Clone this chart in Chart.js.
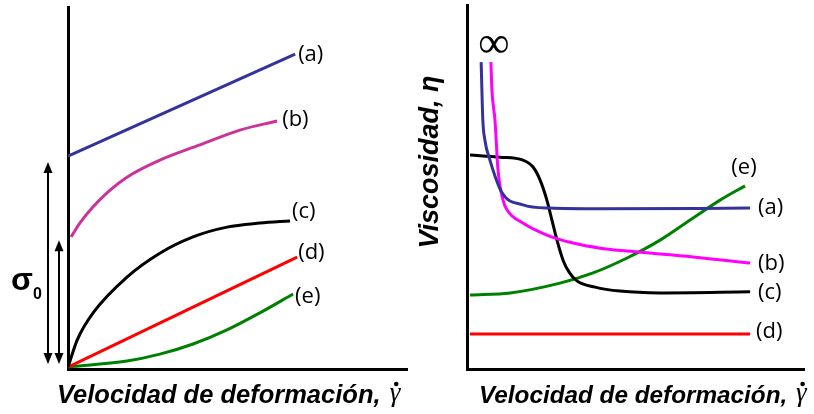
<!DOCTYPE html>
<html>
<head>
<meta charset="utf-8">
<script src="https://cdn.jsdelivr.net/npm/chart.js@4"></script>
<style>
  html, body { margin: 0; padding: 0; background: #fff; }
  #wrap { position: relative; width: 814px; height: 414px; }
  #flowChart { position: absolute; left: 0; top: 0; }
  #viscChart { position: absolute; left: 410px; top: 0; }
</style>
</head>
<body>
<div id="wrap">
  <canvas id="flowChart" width="410" height="414"></canvas>
  <canvas id="viscChart" width="404" height="414"></canvas>
</div>
<script>
// --- left panel: esfuerzo vs velocidad de deformación (arbitrary units 0..10)
const seriesNames = ['(a)', '(b)', '(c)', '(d)', '(e)'];
const stressA = [[0, 5.88], [6.70, 8.70]];
const stressB = [[0.09, 3.65], [0.35, 4.03], [0.74, 4.48], [1.24, 4.94], [1.74, 5.30], [2.71, 5.77], [3.89, 6.19], [5.07, 6.60], [6.17, 6.85]];
const stressC = [[0, 0.05], [0.27, 0.80], [0.74, 1.55], [1.74, 2.54], [2.71, 3.20], [3.69, 3.65], [4.69, 3.92], [5.66, 4.03], [6.55, 4.09]];
const stressD = [[0, 0.05], [6.76, 3.09]];
const stressE = [[0, 0.06], [1.74, 0.22], [2.71, 0.41], [3.69, 0.69], [4.69, 1.08], [5.66, 1.55], [6.64, 2.07]];
const yieldStress = [5.72, 3.56];   // tops of the sigma_0 arrows
const arrowBase = 0.14;

// --- right panel: viscosidad vs velocidad de deformación
const viscA = [[0.42, 8.43], [0.47, 6.84], [0.53, 6.29], [0.68, 5.74], [1.04, 4.84], [1.66, 4.51], [2.46, 4.42], [3.95, 4.40], [8.40, 4.42]];
const viscB = [[0.71, 8.43], [0.74, 7.66], [0.83, 6.84], [0.92, 5.47], [1.07, 4.64], [1.19, 4.37], [1.66, 4.01], [2.37, 3.68], [3.15, 3.46], [3.95, 3.32], [4.75, 3.24], [6.71, 3.08], [8.40, 2.91]];
const viscC = [[0.09, 5.88], [0.98, 5.82], [1.66, 5.74], [1.96, 5.55], [2.17, 5.19], [2.37, 4.64], [2.52, 4.09], [2.67, 3.54], [2.85, 2.99], [3.03, 2.66], [3.26, 2.42], [3.80, 2.25], [4.54, 2.14], [5.73, 2.09], [8.40, 2.12]];
const viscD = [[0.09, 0.96], [8.40, 0.96]];
const viscE = [[0.09, 2.03], [1.28, 2.09], [2.76, 2.36], [3.74, 2.64], [4.75, 3.05], [5.73, 3.54], [6.71, 4.15], [7.51, 4.64], [8.25, 5.03]];
const infinityAt = [0.8, 8.88];

const xTitle = 'Velocidad de deformación, ';
const rateSymbol = 'γ';
const yTitle = 'Viscosidad, η';
const labelFont = '22px "Open Sans"';

const toPts = arr => arr.map(p => ({ x: p[0], y: p[1] }));

function makeSets(series, colors) {
  return series.map((s, i) => ({
    label: seriesNames[i],
    data: toPts(s),
    borderColor: colors[i],
    borderWidth: 3,
    pointRadius: 0,
    fill: false,
    cubicInterpolationMode: 'monotone'
  }));
}

function axisOpts() {
  const common = {
    type: 'linear', min: 0, max: 10,
    grid: { display: false, drawTicks: false, tickLength: 0 },
    ticks: { display: false },
    border: { display: true, width: 3, color: '#000' }
  };
  return { x: { ...common }, y: { ...common } };
}

// curve labels at the end of each line
function endLabels(offsets) {
  return {
    id: 'endLabels',
    afterDatasetsDraw(chart) {
      const ctx = chart.ctx;
      const xs = chart.scales.x, ys = chart.scales.y;
      ctx.save();
      ctx.font = labelFont;
      ctx.fillStyle = '#000';
      ctx.textBaseline = 'middle';
      chart.data.datasets.forEach((ds, i) => {
        const last = ds.data[ds.data.length - 1];
        const off = offsets[i];
        ctx.textAlign = off[2] || 'left';
        ctx.fillText(ds.label, xs.getPixelForValue(last.x) + off[0], ys.getPixelForValue(last.y) + off[1]);
      });
      ctx.restore();
    }
  };
}

// x axis title with a dotted gamma
function rateTitle(dx, size) {
  return {
    id: 'rateTitle',
    afterDraw(chart) {
      const ctx = chart.ctx;
      const x0 = chart.chartArea.left + dx;
      const base = chart.chartArea.bottom + 34;
      ctx.save();
      ctx.fillStyle = '#000';
      ctx.textAlign = 'left';
      ctx.textBaseline = 'alphabetic';
      ctx.font = 'italic bold ' + size + 'px "Liberation Sans"';
      ctx.fillText(xTitle, x0, base);
      const gx = x0 + ctx.measureText(xTitle).width + 2;
      ctx.font = 'italic 27px "Liberation Serif"';
      ctx.fillText(rateSymbol, gx, base - 2);
      const gw = ctx.measureText(rateSymbol).width;
      ctx.beginPath();
      ctx.arc(gx + gw * 0.62, base - 19, 2.3, 0, Math.PI * 2);
      ctx.fill();
      ctx.restore();
    }
  };
}

function arrowHead(ctx, x, y, dir) {
  ctx.beginPath();
  ctx.moveTo(x, y);
  ctx.lineTo(x - 4.5, y - dir * 11);
  ctx.lineTo(x + 4.5, y - dir * 11);
  ctx.closePath();
  ctx.fill();
}

const sigmaPlugin = {
  id: 'sigma',
  afterDraw(chart) {
    const ctx = chart.ctx;
    const ys = chart.scales.y;
    const left = chart.chartArea.left;
    const xsPix = [left - 20, left - 9];
    ctx.save();
    ctx.strokeStyle = '#000';
    ctx.fillStyle = '#000';
    ctx.lineWidth = 2;
    yieldStress.forEach((v, i) => {
      const top = ys.getPixelForValue(v);
      const bot = ys.getPixelForValue(arrowBase);
      ctx.beginPath();
      ctx.moveTo(xsPix[i], top + 8);
      ctx.lineTo(xsPix[i], bot - 8);
      ctx.stroke();
      arrowHead(ctx, xsPix[i], top, -1);
      arrowHead(ctx, xsPix[i], bot, 1);
    });
    ctx.textBaseline = 'alphabetic';
    ctx.textAlign = 'left';
    ctx.font = 'bold 32px "Liberation Sans"';
    ctx.fillText('σ', 11, 290);
    ctx.font = 'bold 16px "Liberation Sans"';
    ctx.fillText('0', 33, 299);
    ctx.restore();
  }
};

const viscNotes = {
  id: 'viscNotes',
  afterDraw(chart) {
    const ctx = chart.ctx;
    const xs = chart.scales.x, ys = chart.scales.y;
    const area = chart.chartArea;
    ctx.save();
    ctx.fillStyle = '#000';
    ctx.textAlign = 'center';
    ctx.textBaseline = 'middle';
    ctx.font = '44px "Liberation Serif"';
    ctx.fillText('∞', xs.getPixelForValue(infinityAt[0]), ys.getPixelForValue(infinityAt[1]));
    ctx.translate(area.left - 36, area.top + 157);
    ctx.rotate(-Math.PI / 2);
    ctx.font = 'italic bold 27px "Liberation Sans"';
    ctx.fillText(yTitle, 0, 0);
    ctx.restore();
  }
};

Chart.defaults.font.family = 'Liberation Sans';

const flowChart = new Chart(document.getElementById('flowChart'), {
  type: 'line',
  data: {
    datasets: makeSets([stressA, stressB, stressC, stressD, stressE],
      ['#333399', '#CC3399', '#000000', '#FF0000', '#008000'])
  },
  options: {
    responsive: false,
    animation: false,
    devicePixelRatio: 1,
    layout: { padding: { left: 68, right: 3, top: 7, bottom: 45 } },
    plugins: { legend: { display: false }, tooltip: { enabled: false } },
    scales: axisOpts()
  },
  plugins: [endLabels([[3, 1], [5, -1], [2, -9], [1, -4], [2, 3]]), sigmaPlugin, rateTitle(-11, 25.5)]
});

const viscChart = new Chart(document.getElementById('viscChart'), {
  type: 'line',
  data: {
    datasets: makeSets([viscA, viscB, viscC, viscD, viscE],
      ['#333399', '#FF00FF', '#000000', '#FF0000', '#008000'])
  },
  options: {
    responsive: false,
    animation: false,
    devicePixelRatio: 1,
    layout: { padding: { left: 57, right: 10, top: 5, bottom: 45 } },
    plugins: { legend: { display: false }, tooltip: { enabled: false } },
    scales: axisOpts()
  },
  plugins: [endLabels([[8, 0], [8, 1], [8, 1], [6, -2], [-1, -18, 'center']]), viscNotes, rateTitle(12, 24.3)]
});
</script>
</body>
</html>
